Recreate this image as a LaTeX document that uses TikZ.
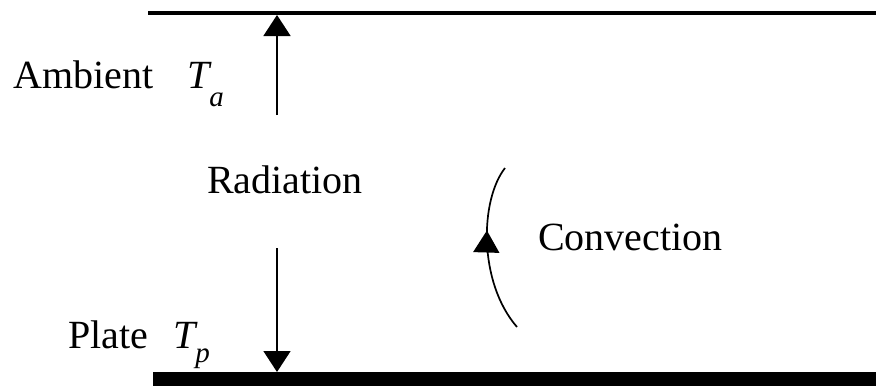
\documentclass[tikz,border=0pt]{standalone}
\usepackage{fontspec}
\setmainfont{Liberation Serif}
\usepackage{xcolor}
\usetikzlibrary{arrows.meta,decorations.markings}
\definecolor{ink}{HTML}{000000}
\newcommand{\LabelFont}{\fontsize{40}{46}\selectfont}
\newcommand{\SubFont}{\fontsize{29}{32}\selectfont}

\begin{document}
\begin{tikzpicture}[x=1pt,y=-1pt,
    label/.style={anchor=base west,inner sep=0pt,text=ink},
    ray/.style={ink,line width=1.7pt,-{Triangle[width=27pt,length=21pt]}}]
  \useasboundingbox (0,0) rectangle (876,386);
  % walls
  \coordinate (ambient west) at (148,13);
  \coordinate (ambient east) at (876,13);
  \coordinate (plate west) at (153,379);
  \coordinate (plate east) at (876,379);
  \draw[ink,line width=4pt] (ambient west) -- (ambient east);
  \draw[ink,line width=14pt] (plate west) -- (plate east);
  % radiation
  \coordinate (rad up) at (277,115);
  \coordinate (rad top) at (277,15);
  \coordinate (rad down) at (277,248);
  \coordinate (rad bottom) at (277,372);
  \draw[ray] (rad up) -- (rad top);
  \draw[ray] (rad down) -- (rad bottom);
  % convection
  \coordinate (conv start) at (517,327);
  \coordinate (conv end) at (505,168);
  \draw[ink,line width=1.7pt,decoration={markings,
      mark=at position 0.61 with {\arrow{Triangle[width=26pt,length=22pt]}}},
      postaction={decorate}]
    (conv start) .. controls (478,282) and (480,200) .. (conv end);
  % labels
  \node[label] (ambient) at (13,88) {\LabelFont Ambient};
  \node[label] (ta) at (187,88) {\LabelFont\itshape T\raisebox{-18pt}{\SubFont a}};
  \node[label] (radiation) at (207,193) {\LabelFont Radiation};
  \node[label] (convection) at (538,250) {\LabelFont Convection};
  \node[label] (plate) at (68,348) {\LabelFont Plate};
  \node[label] (tp) at (173,348) {\LabelFont\itshape T\raisebox{-14pt}{\SubFont p}};
\end{tikzpicture}
\end{document}
